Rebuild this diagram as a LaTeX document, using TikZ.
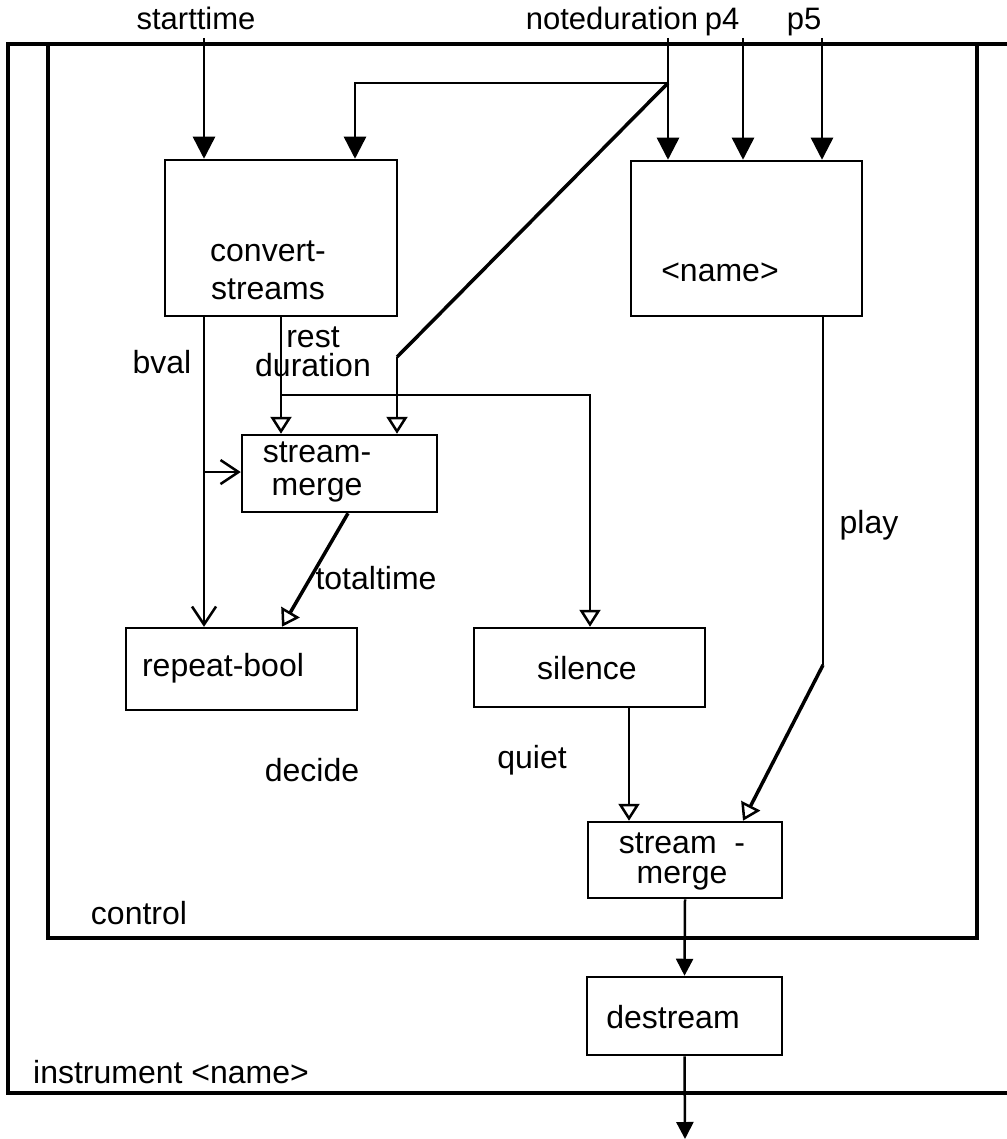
\documentclass[tikz,border=0pt]{standalone}
\usepackage{fontspec}
\setmainfont{Liberation Sans}
\usetikzlibrary{arrows.meta,calc}

\begin{document}
\begin{tikzpicture}[x=1pt,y=-1pt,
  every node/.style={font=\fontsize{32}{30}\selectfont, inner sep=0pt},
  block/.style={draw, line width=2.5pt, inner sep=0pt},
  frame/.style={line width=3.5pt},
  wire/.style={line width=2.5pt},
  heavy/.style={line width=3.5pt},
  inlabel/.style={anchor=base, font=\fontsize{31}{30}\selectfont},
  solidtip/.style={-{Triangle[width=22pt,length=22pt]}},
  smalltip/.style={-{Triangle[width=17pt,length=17pt]}},
  hollowtip/.style={-{Triangle[open,width=21pt,length=17pt,line width=2.5pt]}},
  barbtip/.style={-{Straight Barb[width=24pt,length=18pt,line width=2.5pt]}},
]
\useasboundingbox (0,0) rectangle (1006,1139);

% frames: instrument (outer, open to the right) and control (inner)
\draw[frame] (1030,44) -- (8,44) -- (8,1093) -- (1030,1093);
\draw[frame] (48,44) rectangle (977,938);

% blocks
\node[block, minimum width=232pt, minimum height=156pt] (cs)  at (281,238) {};
\node[block, minimum width=231pt, minimum height=155pt] (nm)  at (746.5,238.5) {};
\node[block, minimum width=195pt, minimum height=77pt]  (sm1) at (339.5,473.5) {};
\node[block, minimum width=231pt, minimum height=82pt]  (rb)  at (241.5,669) {};
\node[block, minimum width=231pt, minimum height=79pt]  (sil) at (589.5,667.5) {};
\node[block, minimum width=194pt, minimum height=76pt]  (sm2) at (685,860) {};
\node[block, minimum width=195pt, minimum height=78pt]  (ds)  at (684.5,1016) {};

% block texts
\node[align=center, font=\fontsize{32}{38}\selectfont] (cst) at (268,270) {convert-\\streams};
\node (nmt) at (720,272) {<name>};
\node[align=center, font=\fontsize{32}{33}\selectfont] (sm1t) at (317,472) {stream-\\merge};
\node (rbt) at (223,668) {repeat-bool};
\node (silt) at (587,668) {silence};
\node[align=center, font=\fontsize{32}{30}\selectfont] (sm2t) at (682,861) {stream\ \ -\\merge};
\node (dst) at (673,1017) {destream};

% inputs
\node[inlabel] (st)  at (196,30) {starttime};
\node[inlabel] (nd)  at (612,30) {noteduration};
\node[inlabel] (pf)  at (722,30) {p4};
\node[inlabel] (pv)  at (804,30) {p5};

% wire labels
\node (bval) at (162,362) {bval};
\node[align=center, font=\fontsize{32}{29}\selectfont] (rd) at (313,352) {rest\\duration};
\node (tt)   at (376,578) {totaltime};
\node (play) at (869,525) {play};
\node (dec)  at (312,770) {decide};
\node (qt)   at (532,760) {quiet};
\node (ctl)  at (139,913) {control};
\node (ins)  at (171,1072) {instrument <name>};

% routing points
\coordinate (jn) at (668,83);
\coordinate (top) at (0,38);
\coordinate (bv) at (204,0);
\coordinate (rs) at (281,0);
\coordinate (rsb) at (281,395);
\coordinate (bvb) at (204,472);
\coordinate (dg) at (397,357);
\coordinate (pl) at (823,665);

% starttime, p4, p5
\draw[wire, solidtip] (top -| bv) -- (bv |- cs.north);
\draw[wire, solidtip] (top -| 743,0) -- (743,0 |- nm.north);
\draw[wire, solidtip] (top -| 822,0) -- (822,0 |- nm.north);

% noteduration fan-out
\draw[wire, solidtip] (top -| jn) -- (jn |- nm.north);
\draw[wire, solidtip] (jn) -- (355,83) -- (355,0 |- cs.north);
\draw[heavy] (jn) -- (dg);
\draw[wire, hollowtip] (dg) -- (dg |- sm1.north);

% bval
\draw[wire, barbtip] (bv |- cs.south) -- (bv |- rb.north);
\draw[wire, barbtip] (bvb) -- (bvb -| sm1.west);

% rest duration
\draw[wire, hollowtip] (rs |- cs.south) -- (rs |- sm1.north);
\draw[wire, hollowtip] (rsb) -- (590,395) -- (590,0 |- sil.north);

% totaltime
\draw[heavy, hollowtip] (348,0 |- sm1.south) -- (282,0 |- rb.north);

% play
\draw[wire] (pl |- nm.south) -- (pl);
\draw[heavy, hollowtip] (pl) -- (743,0 |- sm2.north);

% quiet
\draw[wire, hollowtip] (629,0 |- sil.south) -- (629,0 |- sm2.north);

% output
\draw[wire, smalltip] (sm2.south) -- (ds.north);
\draw[wire, smalltip] (ds.south) -- (685,1139);
\end{tikzpicture}
\end{document}
